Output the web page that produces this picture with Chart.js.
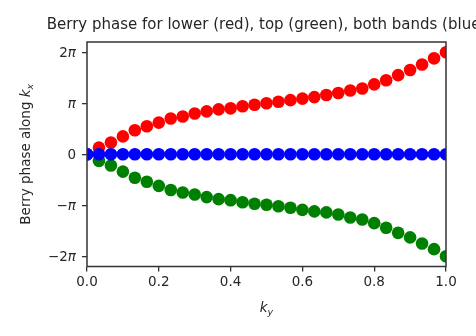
<!DOCTYPE html>
<html>
<head>
<meta charset="utf-8">
<script src="https://cdn.jsdelivr.net/npm/chart.js@4"></script>
<style>
  html, body { margin: 0; padding: 0; background: #fff; }
  #wrap { width: 476px; height: 336px; }
</style>
</head>
<body>
<div id="wrap"><canvas id="berry" width="476" height="336"></canvas></div>
<script>
// k_y sample points
const ky = [0, 0.0333, 0.0667, 0.1, 0.1333, 0.1667, 0.2, 0.2333, 0.2667, 0.3, 0.3333,
    0.3667, 0.4, 0.4333, 0.4667, 0.5, 0.5333, 0.5667, 0.6, 0.6333, 0.6667,
    0.7, 0.7333, 0.7667, 0.8, 0.8333, 0.8667, 0.9, 0.9333, 0.9667, 1];

// Berry phase in units of pi
const lowerBand = [0, 0.13, 0.23, 0.35, 0.47, 0.55, 0.62, 0.70, 0.74, 0.80, 0.84,
    0.88, 0.90, 0.94, 0.97, 1.00, 1.03, 1.06, 1.09, 1.12, 1.16,
    1.20, 1.25, 1.29, 1.37, 1.45, 1.55, 1.65, 1.76, 1.88, 2.00];
const topBand = [0, -0.13, -0.22, -0.34, -0.46, -0.54, -0.62, -0.70, -0.75, -0.79, -0.84,
    -0.88, -0.90, -0.94, -0.97, -0.99, -1.02, -1.05, -1.09, -1.12, -1.14,
    -1.18, -1.24, -1.28, -1.35, -1.44, -1.54, -1.63, -1.75, -1.86, -2.00];
const bothBands = [0, 0, 0, 0, 0, 0, 0, 0, 0, 0, 0,
    0, 0, 0, 0, 0, 0, 0, 0, 0, 0,
    0, 0, 0, 0, 0, 0, 0, 0, 0, 0];

// y ticks at multiples of pi, labels as (upright, italic) pieces
const yTickPi = [-2, -1, 0, 1, 2];
const yTickLabels = [['\u22122', '\u03c0'], ['\u2212', '\u03c0'], ['0', ''], ['', '\u03c0'], ['2', '\u03c0']];

const FONT = "'DejaVu Sans', sans-serif";
const INK = '#262626';
const SPINE = '#333333';
const SIZE = 13.5;

function toPoints(vals) {
    return vals.map((v, i) => ({ x: ky[i], y: v * Math.PI }));
}

function pointSet(label, vals, color) {
    return {
        label: label,
        data: toPoints(vals),
        backgroundColor: color,
        borderWidth: 0,
        pointRadius: 6.3,
        showLine: false,
        clip: 0,
    };
}

// lays out text pieces (italic / subscript) and draws them, align 'center' or 'right'
function drawRuns(ctx, runs, x0, baseY, size, align) {
    const parts = runs.map(r => {
        const sz = r.sub ? size * 0.7 : size;
        const font = (r.italic ? 'italic ' : '') + sz + 'px ' + FONT;
        ctx.font = font;
        return { text: r.text, font: font, w: ctx.measureText(r.text).width, dy: r.sub ? size * 0.22 : 0 };
    });
    const total = parts.reduce((s, p) => s + p.w, 0);
    let x = align === 'right' ? x0 - total : x0 - total / 2;
    ctx.textBaseline = 'alphabetic';
    ctx.textAlign = 'left';
    parts.forEach(p => {
        ctx.font = p.font;
        ctx.fillText(p.text, x, baseY + p.dy);
        x += p.w;
    });
}

const decor = {
    id: 'decor',
    afterDatasetsDraw(chart) {
        const ctx = chart.ctx;
        const a = chart.chartArea;
        const yScale = chart.scales.y;
        ctx.save();
        ctx.strokeStyle = SPINE;
        ctx.lineWidth = 1.5;
        ctx.strokeRect(a.left, a.top, a.right - a.left, a.bottom - a.top);

        ctx.fillStyle = INK;
        const cx = (a.left + a.right) / 2;
        ctx.font = '15px ' + FONT;
        ctx.textAlign = 'center';
        ctx.textBaseline = 'alphabetic';
        ctx.fillText('Berry phase for lower (red), top (green), both bands (blue)', cx, 29);

        // y tick labels with italic pi
        yTickPi.forEach((v, i) => {
            const y = yScale.getPixelForValue(v * Math.PI);
            const lab = yTickLabels[i];
            drawRuns(ctx, [{ text: lab[0] }, { text: lab[1], italic: true }], a.left - 11, y + 5, SIZE, 'right');
        });

        drawRuns(ctx, [{ text: 'k', italic: true }, { text: 'y', italic: true, sub: true }], cx, 312, SIZE, 'center');

        ctx.translate(30, (a.top + a.bottom) / 2);
        ctx.rotate(-Math.PI / 2);
        drawRuns(ctx, [{ text: 'Berry phase along ' }, { text: 'k', italic: true }, { text: 'x', italic: true, sub: true }], 0, 0, SIZE, 'center');
        ctx.restore();
    }
};

new Chart(document.getElementById('berry'), {
    type: 'scatter',
    data: {
        datasets: [
            pointSet('both bands', bothBands, '#0000ff'),
            pointSet('top band', topBand, '#008000'),
            pointSet('lower band', lowerBand, '#ff0000'),
        ],
    },
    options: {
        responsive: false,
        animation: false,
        devicePixelRatio: 1,
        layout: { padding: { top: 42, right: 30, left: 0, bottom: 0 } },
        plugins: { legend: { display: false }, tooltip: { enabled: false }, title: { display: false } },
        scales: {
            x: {
                type: 'linear',
                min: 0,
                max: 1,
                afterFit(s) { s.height = 69.5; },
                grid: { drawOnChartArea: false, drawTicks: true, tickLength: 5, color: SPINE, lineWidth: 1.3 },
                border: { display: false },
                ticks: {
                    stepSize: 0.2,
                    padding: 3,
                    color: INK,
                    font: { family: FONT, size: SIZE },
                    callback: v => v.toFixed(1),
                    maxRotation: 0,
                },
            },
            y: {
                type: 'linear',
                min: -2.2 * Math.PI,
                max: 2.2 * Math.PI,
                afterFit(s) { s.width = 87; },
                afterBuildTicks(s) { s.ticks = yTickPi.map(v => ({ value: v * Math.PI })); },
                grid: { drawOnChartArea: false, drawTicks: true, tickLength: 5, color: SPINE, lineWidth: 1.3 },
                border: { display: false },
                ticks: { display: false },
            },
        },
    },
    plugins: [decor],
});
</script>
</body>
</html>
